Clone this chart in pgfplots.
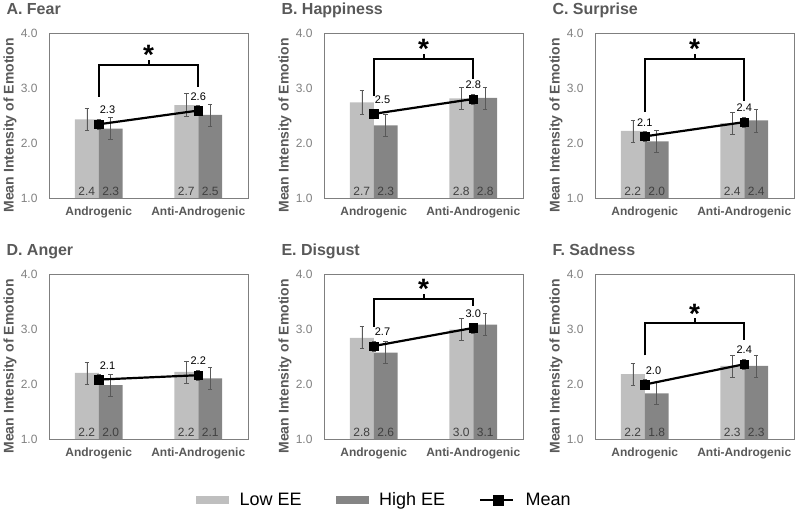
\documentclass[border=0pt]{standalone}
\usepackage{fontspec}
\setmainfont{Liberation Sans}
\usepackage{pgfplots}
\usepackage{pgfplotstable}
\pgfplotsset{compat=1.18}

\definecolor{lowee}{HTML}{BFBFBF}
\definecolor{highee}{HTML}{858585}
\definecolor{txtgray}{HTML}{595959}
\definecolor{tickgray}{HTML}{808080}
\definecolor{errgray}{HTML}{595959}
\definecolor{framegray}{HTML}{7F7F7F}
\definecolor{barlabel}{HTML}{404040}

% x: 0 = Androgenic, 1 = Anti-Androgenic; lx = horizontal offset of the mean label
\pgfplotstableread{
x low  lowerr high higherr mean meanerr lx
0 2.43 0.20   2.26 0.20    2.34 0.09    0.088
1 2.69 0.21   2.51 0.20    2.59 0.09    0.0
}\fear
\pgfplotstableread{
x low  lowerr high higherr mean meanerr lx
0 2.74 0.21   2.32 0.20    2.53 0.09    0.088
1 2.81 0.20   2.82 0.20    2.80 0.09    0.0
}\happiness
\pgfplotstableread{
x low  lowerr high higherr mean meanerr lx
0 2.22 0.20   2.03 0.20    2.12 0.09    0.0
1 2.36 0.20   2.41 0.21    2.38 0.09    0.0
}\surprise
\pgfplotstableread{
x low  lowerr high higherr mean meanerr lx
0 2.20 0.20   1.98 0.20    2.08 0.09    0.088
1 2.22 0.20   2.10 0.20    2.16 0.09    0.0
}\anger
\pgfplotstableread{
x low  lowerr high higherr mean meanerr lx
0 2.84 0.20   2.57 0.20    2.69 0.09    0.088
1 2.99 0.20   3.08 0.20    3.02 0.09    0.0
}\disgust
\pgfplotstableread{
x low  lowerr high higherr mean meanerr lx
0 2.18 0.20   1.83 0.20    1.99 0.09    0.088
1 2.33 0.20   2.33 0.20    2.36 0.09    0.0
}\sadness

\pgfplotsset{
  emotion/.style={
    scale only axis, width=199pt, height=165pt,
    xmin=-0.5, xmax=1.5, ymin=1, ymax=4,
    xtick={0,1}, xticklabels={Androgenic,Anti-Androgenic},
    ytick={1,2,3,4},
    major tick length=0pt,
    /pgf/number format/fixed,
    /pgf/number format/fixed zerofill,
    /pgf/number format/precision=1,
    /pgf/number format/assume math mode=true,
    axis line style={framegray, line width=0.8pt},
    yticklabel style={font=\fontsize{12}{14}\selectfont, text=tickgray, anchor=east, xshift=-8pt},
    xticklabel style={font=\bfseries\fontsize{12}{14}\selectfont, text=txtgray, anchor=north, yshift=-5pt},
    ylabel={Mean Intensity of Emotion},
    ylabel style={font=\bfseries\fontsize{14}{16}\selectfont, text=txtgray,
      at={(axis description cs:-0.178,0.44)}, anchor=base},
    title style={font=\bfseries\fontsize{16}{18}\selectfont, text=txtgray,
      at={(axis description cs:0,1)}, anchor=base west, xshift=-46pt, yshift=12pt},
    error bars/error bar style={errgray, line width=0.6pt},
    error bars/error mark options={rotate=90, mark size=2.2pt, errgray, line width=0.6pt},
  },
}

% significance bracket: left end, top, right end, top of the asterisk
\newcommand{\sigbracket}[4]{%
  \draw[line width=2pt] (axis cs:0,#1) -- (axis cs:0,#2) -- (axis cs:1,#2) -- (axis cs:1,#3);
  \draw[line width=2pt] (axis cs:0.5,#2) -- ++(0pt,5pt);
  \node[font=\bfseries\fontsize{28}{28}\selectfont, anchor=north, inner sep=0pt]
    at (axis cs:0.5,#4) {*};
}

% one panel: position, title, data table, extra annotations
% bars sit 0.12 left (Low EE) and right (High EE) of each category
\newcommand{\emopanel}[4]{%
\begin{axis}[emotion, at={#1}, anchor=south west, title={#2}]
  \addplot[ybar, bar width=0.24, bar shift=0, fill=lowee, draw=none,
    error bars/.cd, y dir=both, y explicit]
    table[x expr=\thisrow{x}-0.12, y=low, y error=lowerr]{#3};
  \addplot[ybar, bar width=0.24, bar shift=0, fill=highee, draw=none,
    error bars/.cd, y dir=both, y explicit]
    table[x expr=\thisrow{x}+0.12, y=high, y error=higherr]{#3};
  \addplot[draw=none, mark=none, nodes near coords, point meta=explicit,
    every node near coord/.append style={font=\fontsize{12}{14}\selectfont,
      text=barlabel, anchor=south, inner sep=1pt, yshift=1pt}]
    table[x expr=\thisrow{x}-0.12, y expr=1, meta=low]{#3};
  \addplot[draw=none, mark=none, nodes near coords, point meta=explicit,
    every node near coord/.append style={font=\fontsize{12}{14}\selectfont,
      text=barlabel, anchor=south, inner sep=1pt, yshift=1pt}]
    table[x expr=\thisrow{x}+0.12, y expr=1, meta=high]{#3};
  \addplot[black, line width=2.2pt, mark=square*, mark size=4.2pt,
    mark options={solid, line width=0.4pt},
    error bars/.cd, y dir=both, y explicit]
    table[x=x, y=mean, y error=meanerr]{#3};
  \addplot[draw=none, mark=none, nodes near coords, point meta=explicit,
    every node near coord/.append style={font=\fontsize{11}{13}\selectfont,
      text=black, anchor=south, inner sep=1pt, yshift=9pt}]
    table[x expr=\thisrow{x}+\thisrow{lx}, y=mean, meta=mean]{#3};
  #4
\end{axis}}

\begin{document}
\begin{tikzpicture}
\useasboundingbox (0pt,0pt) rectangle (798pt,514pt);

\emopanel{(49pt,316pt)}{A. Fear}{\fear}{\sigbracket{2.84}{3.42}{3.01}{3.78}}
\emopanel{(324pt,316pt)}{B. Happiness}{\happiness}{\sigbracket{2.85}{3.53}{3.17}{3.89}}
\emopanel{(595pt,316pt)}{C. Surprise}{\surprise}{\sigbracket{2.56}{3.53}{2.76}{3.89}}
\emopanel{(49pt,75pt)}{D. Anger}{\anger}{}
\emopanel{(324pt,75pt)}{E. Disgust}{\disgust}{\sigbracket{3.04}{3.55}{3.41}{3.91}}
\emopanel{(595pt,75pt)}{F. Sadness}{\sadness}{\sigbracket{2.52}{3.10}{2.80}{3.46}}

% shared legend
\begin{axis}[at={(196pt,14pt)}, anchor=south west, hide axis, scale only axis,
  width=1pt, height=1pt, xmin=0, xmax=1, ymin=0, ymax=1,
  legend columns=3,
  legend style={at={(0,0)}, anchor=west, draw=none, fill=none, inner sep=0pt,
    font=\fontsize{18}{20}\selectfont, text=black,
    /tikz/every odd column/.append style={column sep=9pt},
    /tikz/every even column/.append style={column sep=32pt}},
  ]
  \addlegendimage{legend image code/.code={\fill[lowee] (0pt,-3.5pt) rectangle (32pt,3.5pt);}}
  \addlegendentry{Low EE}
  \addlegendimage{legend image code/.code={\fill[highee] (0pt,-3.5pt) rectangle (32pt,3.5pt);}}
  \addlegendentry{High EE}
  \addlegendimage{legend image code/.code={\draw[black, line width=2.5pt] (0pt,0pt) -- (33pt,0pt);
    \fill[black] (13pt,-5pt) rectangle (23pt,5pt);}}
  \addlegendentry{Mean}
\end{axis}
\end{tikzpicture}
\end{document}
